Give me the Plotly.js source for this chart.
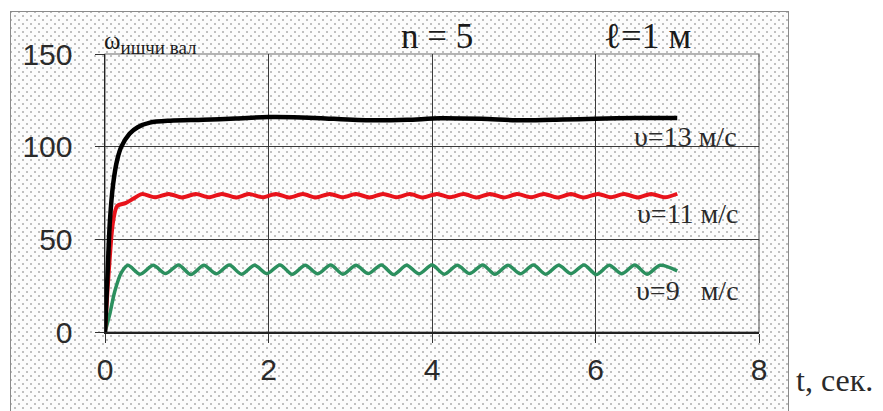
<!DOCTYPE html>
<html>
<head>
<meta charset="utf-8">
<script src="https://cdn.plot.ly/plotly-3.0.1.min.js"></script>
<style>
  html, body { margin:0; padding:0; background:#ffffff; width:883px; height:411px; overflow:hidden; }
  #frame {
    position:absolute; left:10px; top:11px; width:777px; height:420px;
    border:1px solid #8a8a8a;
    background-color:#fcfcfc;
    background-image:
      radial-gradient(circle, #c0c0c0 0.8px, transparent 1.2px),
      radial-gradient(circle, #c0c0c0 0.8px, transparent 1.2px);
    background-size:8px 8px, 8px 8px;
    background-position:0 0, 4px 4px;
  }
  #chart { position:absolute; left:0; top:0; width:883px; height:411px; }
</style>
</head>
<body>
<div id="frame"></div>
<div id="chart"></div>
<script>
// ---- data ----
var tBlack = [0, 0.03, 0.06, 0.10, 0.15, 0.20, 0.30, 0.40, 0.55, 0.80, 1.20, 1.60, 2.00, 2.40, 2.80, 3.30, 3.70, 4.10, 4.60, 5.10, 5.60, 6.00, 6.50, 7.00];
var wBlack = [0, 30, 60, 80, 93, 100, 107, 110.5, 113, 114, 114.5, 115.2, 116, 115.8, 115, 114.2, 114.5, 115.3, 115, 114.2, 114.6, 115, 115.5, 115.5];

var tRed = [0, 0.05, 0.10, 0.15, 0.25, 0.35,
  0.45, 0.61, 0.78, 0.94, 1.11, 1.27, 1.43, 1.60, 1.76, 1.93, 2.09, 2.25, 2.42, 2.58, 2.75, 2.91,
  3.07, 3.24, 3.40, 3.57, 3.73, 3.89, 4.06, 4.22, 4.39, 4.55, 4.71, 4.88, 5.04, 5.21, 5.37, 5.53,
  5.70, 5.86, 6.03, 6.19, 6.35, 6.52, 6.68, 6.85, 7.00];
var wRed = [0, 35, 60, 68, 69.5, 72,
  74.4, 72.7, 74.5, 72.6, 74.4, 72.7, 74.5, 72.6, 74.4, 72.7, 74.5, 72.6, 74.4, 72.6, 74.5, 72.7,
  74.4, 72.6, 74.5, 72.7, 74.4, 72.6, 74.5, 72.7, 74.4, 72.6, 74.5, 72.6, 74.4, 72.7, 74.5, 72.6,
  74.4, 72.6, 74.5, 72.7, 74.4, 72.6, 74.5, 72.7, 74.6];

var tGreen = [0, 0.06, 0.12, 0.20,
  0.28, 0.43, 0.59, 0.74, 0.90, 1.05, 1.21, 1.36, 1.52, 1.67, 1.83, 1.98, 2.14, 2.29, 2.45, 2.60,
  2.76, 2.91, 3.07, 3.22, 3.38, 3.53, 3.69, 3.84, 4.00, 4.15, 4.31, 4.46, 4.62, 4.77, 4.93, 5.08,
  5.24, 5.39, 5.55, 5.70, 5.86, 6.01, 6.17, 6.32, 6.48, 6.63, 6.79, 7.00];
var wGreen = [0, 10, 22, 32,
  36, 31.2, 36, 31.5, 36.2, 31, 36, 31.4, 36.1, 31.2, 36, 31.5, 36.2, 31.1, 36, 31.4,
  36.1, 31.2, 36, 31.5, 36.2, 31, 36, 31.4, 36.1, 31.2, 36, 31.5, 36.2, 31.1, 36, 31.4,
  36.1, 31.2, 36, 31.5, 36.2, 31, 36, 31.4, 36.1, 31.2, 36, 33];

var xTicks = [0, 2, 4, 6, 8];
var yTicks = [0, 50, 100, 150];

var labelN = 'n = 5';
var labelL = '\u2113=1 м';
var labelY = 'ω<sub><span style="font-size:19px">ишчи вал</span></sub>';
var label13 = 'υ=13 м/с';
var label11 = 'υ=11 м/с';
var label9 = 'υ=9\u00a0\u00a0\u00a0м/с';
var labelX = 't, сек.';

// ---- chart ----
var serif = 'Liberation Serif, Times New Roman, serif';
var sans = 'Liberation Sans, Arial, sans-serif';

var traces = [
  {x: tGreen, y: wGreen, mode: 'lines', line: {color: '#2b8f5e', width: 3.5, shape: 'spline', smoothing: 0.8}},
  {x: tRed, y: wRed, mode: 'lines', line: {color: '#e8131b', width: 4, shape: 'spline', smoothing: 0.8}},
  {x: tBlack, y: wBlack, mode: 'lines', line: {color: '#000000', width: 4.5, shape: 'spline', smoothing: 0.8}}
];

var layout = {
  width: 883, height: 411,
  margin: {l: 105, r: 124, t: 54, b: 79, pad: 0},
  paper_bgcolor: 'rgba(0,0,0,0)',
  plot_bgcolor: 'rgba(0,0,0,0)',
  showlegend: false,
  xaxis: {
    range: [0, 8], tickvals: xTicks, ticktext: xTicks.map(String),
    showgrid: true, gridcolor: '#3a3a3a', gridwidth: 1,
    showline: true, linecolor: '#222', linewidth: 1.5,
    ticks: 'outside', ticklen: 9, tickcolor: '#333', tickwidth: 1,
    ticklabelstandoff: 1,
    zeroline: false, fixedrange: true,
    tickfont: {family: sans, size: 30, color: '#2a2a2a'}
  },
  yaxis: {
    range: [0, 150], tickvals: yTicks, ticktext: yTicks.map(String),
    showgrid: true, gridcolor: '#3a3a3a', gridwidth: 1,
    showline: true, linecolor: '#222', linewidth: 1.5,
    ticks: 'outside', ticklen: 9, tickcolor: '#333', tickwidth: 1,
    ticklabelstandoff: 16,
    zeroline: false, fixedrange: true,
    tickfont: {family: sans, size: 30, color: '#2a2a2a'}
  },
  shapes: [
    {type: 'rect', xref: 'paper', yref: 'paper', x0: 0, x1: 1, y0: 0, y1: 1,
     line: {color: '#6a6a6a', width: 1.2}, fillcolor: 'rgba(0,0,0,0)', layer: 'below'}
  ],
  annotations: [
    {text: labelN, xref: 'paper', yref: 'paper', x: 0.507, y: 1.063, xanchor: 'center', yanchor: 'middle',
     showarrow: false, font: {family: serif, size: 35, color: '#1a1a1a'}},
    {text: labelL, xref: 'paper', yref: 'paper', x: 0.830, y: 1.063, xanchor: 'center', yanchor: 'middle',
     showarrow: false, font: {family: serif, size: 36, color: '#1a1a1a'}},
    {text: labelY, xref: 'paper', yref: 'paper', x: -0.004, y: 1.04, xanchor: 'left', yanchor: 'middle',
     showarrow: false, font: {family: serif, size: 25, color: '#1a1a1a'}},
    {text: label13, xref: 'paper', yref: 'paper', x: 0.888, y: 0.705, xanchor: 'center', yanchor: 'middle',
     showarrow: false, font: {family: serif, size: 28, color: '#2a2a2a'}},
    {text: label11, xref: 'paper', yref: 'paper', x: 0.891, y: 0.425, xanchor: 'center', yanchor: 'middle',
     showarrow: false, font: {family: serif, size: 28, color: '#2a2a2a'}},
    {text: label9, xref: 'paper', yref: 'paper', x: 0.891, y: 0.150, xanchor: 'center', yanchor: 'middle',
     showarrow: false, font: {family: serif, size: 28, color: '#2a2a2a'}},
    {text: labelX, xref: 'paper', yref: 'paper', x: 1.053, y: -0.173, xanchor: 'left', yanchor: 'middle',
     showarrow: false, font: {family: serif, size: 32, color: '#2a2a2a'}}
  ]
};

Plotly.newPlot('chart', traces, layout, {displayModeBar: false, staticPlot: true});
</script>
</body>
</html>
